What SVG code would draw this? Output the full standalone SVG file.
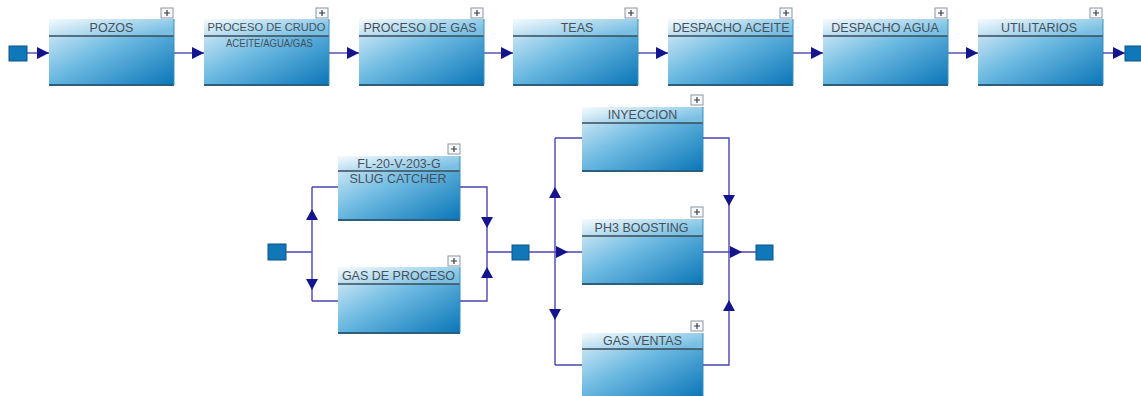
<svg xmlns="http://www.w3.org/2000/svg" width="1141" height="396" viewBox="0 0 1141 396">
  <defs>
    <linearGradient id="bodyGrad" x1="0" y1="0" x2="1" y2="1">
      <stop offset="0" stop-color="#e4f2fa"/>
      <stop offset="0.45" stop-color="#6fbbe2"/>
      <stop offset="1" stop-color="#0a76b8"/>
    </linearGradient>
    <linearGradient id="headGrad" x1="0" y1="0" x2="1" y2="0.6">
      <stop offset="0" stop-color="#f6fbfe"/>
      <stop offset="1" stop-color="#78bfe3"/>
    </linearGradient>
    <marker id="arr" viewBox="0 0 12 12" refX="12" refY="6" markerWidth="12" markerHeight="12" markerUnits="userSpaceOnUse" orient="auto">
      <path d="M0,0 L12,6 L0,12 Z" fill="#14148c"/>
    </marker>
    <style>
      .body { fill: url(#bodyGrad); }
      .head { fill: url(#headGrad); }
      .hline { stroke: #3b4b57; stroke-width: 1.6; }
      .bline { stroke: #2c5e7e; stroke-width: 2; }
      .rline { stroke: #3f8fbd; stroke-width: 1; }
      .plus rect { fill: #f7f9fb; stroke: #8a96a0; stroke-width: 1; }
      .plus path { stroke: #3a3a48; stroke-width: 1.2; }
      .lbl { font-family: "Liberation Sans", Arial, sans-serif; font-size: 12.5px; fill: #46505a; text-anchor: middle; }
      .sm { font-size: 10.5px; }
      .xs { font-size: 10.5px; }
      .term { fill: #1078b8; stroke: #0d5588; stroke-width: 1; }
      .wire { fill: none; stroke: #4a45b5; stroke-width: 1.4; }
      .tip { fill: #14148c; }
    </style>
  </defs>

  <!-- top chain of blocks -->
  <g id="top-start"><rect class="term" x="9" y="46" width="18" height="15"/></g>

  <g id="pozos">
    <rect class="body" x="49" y="19" width="125" height="66"/>
    <rect class="head" x="49" y="19" width="125" height="17"/>
    <line class="hline" x1="49" y1="36" x2="174" y2="36"/>
    <line class="bline" x1="49" y1="85" x2="174" y2="85"/>
    <line class="rline" x1="174" y1="19" x2="174" y2="85"/>
    <text class="lbl" x="111.5" y="32">POZOS</text>
    <g class="plus"><rect x="161" y="8" width="12" height="10"/><path d="M167,10 V16 M164,13 H170"/></g>
  </g>

  <g id="proceso-crudo">
    <rect class="body" x="204" y="19" width="125" height="66"/>
    <rect class="head" x="204" y="19" width="125" height="17"/>
    <line class="hline" x1="204" y1="36" x2="329" y2="36"/>
    <line class="bline" x1="204" y1="85" x2="329" y2="85"/>
    <line class="rline" x1="329" y1="19" x2="329" y2="85"/>
    <text class="lbl sm" x="266.5" y="31" textLength="118" lengthAdjust="spacingAndGlyphs">PROCESO DE CRUDO</text>
    <text class="lbl xs" x="269.5" y="47" textLength="87" lengthAdjust="spacingAndGlyphs">ACEITE/AGUA/GAS</text>
    <g class="plus"><rect x="316" y="8" width="12" height="10"/><path d="M322,10 V16 M319,13 H325"/></g>
  </g>

  <g id="proceso-gas">
    <rect class="body" x="359" y="19" width="125" height="66"/>
    <rect class="head" x="359" y="19" width="125" height="17"/>
    <line class="hline" x1="359" y1="36" x2="484" y2="36"/>
    <line class="bline" x1="359" y1="85" x2="484" y2="85"/>
    <line class="rline" x1="484" y1="19" x2="484" y2="85"/>
    <text class="lbl" x="420" y="32">PROCESO DE GAS</text>
    <g class="plus"><rect x="471" y="8" width="12" height="10"/><path d="M477,10 V16 M474,13 H480"/></g>
  </g>

  <g id="teas">
    <rect class="body" x="513" y="19" width="125" height="66"/>
    <rect class="head" x="513" y="19" width="125" height="17"/>
    <line class="hline" x1="513" y1="36" x2="638" y2="36"/>
    <line class="bline" x1="513" y1="85" x2="638" y2="85"/>
    <line class="rline" x1="638" y1="19" x2="638" y2="85"/>
    <text class="lbl" x="577" y="32">TEAS</text>
    <g class="plus"><rect x="625" y="8" width="12" height="10"/><path d="M631,10 V16 M628,13 H634"/></g>
  </g>

  <g id="despacho-aceite">
    <rect class="body" x="668" y="19" width="125" height="66"/>
    <rect class="head" x="668" y="19" width="125" height="17"/>
    <line class="hline" x1="668" y1="36" x2="793" y2="36"/>
    <line class="bline" x1="668" y1="85" x2="793" y2="85"/>
    <line class="rline" x1="793" y1="19" x2="793" y2="85"/>
    <text class="lbl" x="731" y="32">DESPACHO ACEITE</text>
    <g class="plus"><rect x="780" y="8" width="12" height="10"/><path d="M786,10 V16 M783,13 H789"/></g>
  </g>

  <g id="despacho-agua">
    <rect class="body" x="823" y="19" width="125" height="66"/>
    <rect class="head" x="823" y="19" width="125" height="17"/>
    <line class="hline" x1="823" y1="36" x2="948" y2="36"/>
    <line class="bline" x1="823" y1="85" x2="948" y2="85"/>
    <line class="rline" x1="948" y1="19" x2="948" y2="85"/>
    <text class="lbl" x="885" y="32">DESPACHO AGUA</text>
    <g class="plus"><rect x="935" y="8" width="12" height="10"/><path d="M941,10 V16 M938,13 H944"/></g>
  </g>

  <g id="utilitarios">
    <rect class="body" x="978" y="19" width="125" height="66"/>
    <rect class="head" x="978" y="19" width="125" height="17"/>
    <line class="hline" x1="978" y1="36" x2="1103" y2="36"/>
    <line class="bline" x1="978" y1="85" x2="1103" y2="85"/>
    <line class="rline" x1="1103" y1="19" x2="1103" y2="85"/>
    <text class="lbl" x="1039" y="32">UTILITARIOS</text>
    <g class="plus"><rect x="1090" y="8" width="12" height="10"/><path d="M1096,10 V16 M1093,13 H1099"/></g>
  </g>

  <g id="top-end"><rect class="term" x="1125" y="46" width="18" height="15"/></g>

  <!-- lower parallel arrangement -->
  <g id="in-node"><rect class="term" x="268" y="244" width="18" height="16"/></g>

  <g id="slug-catcher">
    <rect class="body" x="338" y="156" width="122" height="64"/>
    <rect class="head" x="338" y="156" width="122" height="15"/>
    <line class="hline" x1="338" y1="171" x2="460" y2="171"/>
    <line class="bline" x1="338" y1="220" x2="460" y2="220"/>
    <line class="rline" x1="460" y1="156" x2="460" y2="220"/>
    <text class="lbl" x="399" y="168">FL-20-V-203-G</text>
    <text class="lbl" x="398" y="183">SLUG CATCHER</text>
    <g class="plus"><rect x="448" y="144" width="12" height="10"/><path d="M454,146 V152 M451,149 H457"/></g>
  </g>

  <g id="gas-proceso">
    <rect class="body" x="338" y="267" width="122" height="66"/>
    <rect class="head" x="338" y="267" width="122" height="17"/>
    <line class="hline" x1="338" y1="284" x2="460" y2="284"/>
    <line class="bline" x1="338" y1="333" x2="460" y2="333"/>
    <line class="rline" x1="460" y1="267" x2="460" y2="333"/>
    <text class="lbl" x="398.5" y="280">GAS DE PROCESO</text>
    <g class="plus"><rect x="448" y="256" width="12" height="10"/><path d="M454,258 V264 M451,261 H457"/></g>
  </g>

  <g id="mid-node"><rect class="term" x="512" y="245" width="17" height="15"/></g>

  <g id="inyeccion">
    <rect class="body" x="582" y="107" width="121" height="64"/>
    <rect class="head" x="582" y="107" width="121" height="16"/>
    <line class="hline" x1="582" y1="123" x2="703" y2="123"/>
    <line class="bline" x1="582" y1="171" x2="703" y2="171"/>
    <line class="rline" x1="703" y1="107" x2="703" y2="171"/>
    <text class="lbl" x="642.5" y="119">INYECCION</text>
    <g class="plus"><rect x="691" y="95" width="12" height="10"/><path d="M697,97 V103 M694,100 H700"/></g>
  </g>

  <g id="ph3-boosting">
    <rect class="body" x="582" y="219" width="121" height="65"/>
    <rect class="head" x="582" y="219" width="121" height="17"/>
    <line class="hline" x1="582" y1="236" x2="703" y2="236"/>
    <line class="bline" x1="582" y1="284" x2="703" y2="284"/>
    <line class="rline" x1="703" y1="219" x2="703" y2="284"/>
    <text class="lbl" x="641.5" y="232">PH3 BOOSTING</text>
    <g class="plus"><rect x="691" y="207" width="12" height="10"/><path d="M697,209 V215 M694,212 H700"/></g>
  </g>

  <g id="gas-ventas">
    <rect class="body" x="582" y="333" width="121" height="64"/>
    <rect class="head" x="582" y="333" width="121" height="16"/>
    <line class="hline" x1="582" y1="349" x2="703" y2="349"/>
    <line class="rline" x1="703" y1="333" x2="703" y2="397"/>
    <text class="lbl" x="642.5" y="345">GAS VENTAS</text>
    <g class="plus"><rect x="691" y="321" width="12" height="10"/><path d="M697,323 V329 M694,326 H700"/></g>
  </g>

  <g id="out-node"><rect class="term" x="756" y="245" width="17" height="15"/></g>

  <!-- connectors -->
  <g id="connectors">
    <!-- top chain -->
    <path class="wire" d="M27,53 H49" marker-end="url(#arr)"/>
    <path class="wire" d="M174,53 H204" marker-end="url(#arr)"/>
    <path class="wire" d="M329,53 H359" marker-end="url(#arr)"/>
    <path class="wire" d="M484,53 H513" marker-end="url(#arr)"/>
    <path class="wire" d="M638,53 H668" marker-end="url(#arr)"/>
    <path class="wire" d="M793,53 H823" marker-end="url(#arr)"/>
    <path class="wire" d="M948,53 H978" marker-end="url(#arr)"/>
    <path class="wire" d="M1103,53 H1125" marker-end="url(#arr)"/>

    <!-- first parallel stage -->
    <path class="wire" d="M286,252 H312 M312,187 V301 M312,187 H338 M312,301 H338"/>
    <path class="wire" d="M460,187 H487 V301 H460 M487,252 H512"/>
    <path class="tip" d="M306,220 L312,209 L318,220 Z"/>
    <path class="tip" d="M306,279 L312,290 L318,279 Z"/>
    <path class="tip" d="M481,217 L487,228 L493,217 Z"/>
    <path class="tip" d="M481,278 L487,267 L493,278 Z"/>

    <!-- second parallel stage -->
    <path class="wire" d="M529,252 H582 M555,138 V365 M555,138 H582 M555,365 H582"/>
    <path class="wire" d="M703,138 H729 V365 H703 M703,252 H756"/>
    <path class="tip" d="M549,198 L555,187 L561,198 Z"/>
    <path class="tip" d="M549,309 L555,320 L561,309 Z"/>
    <path class="tip" d="M556,246 L568,252 L556,258 Z"/>
    <path class="tip" d="M723,195 L729,206 L735,195 Z"/>
    <path class="tip" d="M723,311 L729,300 L735,311 Z"/>
    <path class="tip" d="M730,246 L742,252 L730,258 Z"/>
  </g>
</svg>
